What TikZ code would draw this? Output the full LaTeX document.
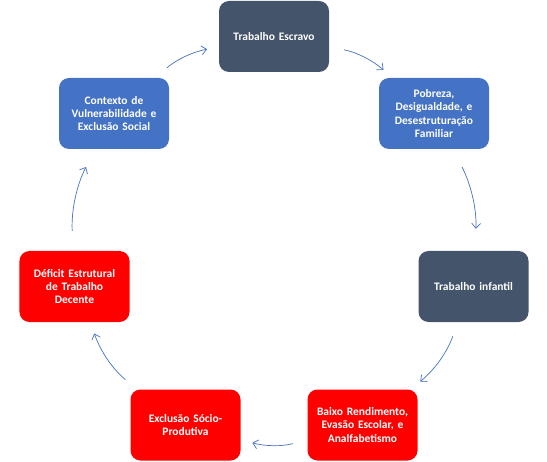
\documentclass[tikz,border=0pt]{standalone}
\usepackage{fontspec}
\setmainfont{Carlito}
\usepackage{tikz}
\usetikzlibrary{arrows.meta, positioning}

\definecolor{slate}{HTML}{44546A}
\definecolor{azul}{HTML}{4472C4}
\definecolor{vermelho}{HTML}{FF0000}

\begin{document}
\begin{tikzpicture}[x=1bp, y=-1bp,
    box/.style={rounded corners=10bp, minimum width=110bp, minimum height=71bp,
        text width=106bp, align=center, text=white, inner sep=0pt,
        font=\fontsize{11.5}{13.2}\selectfont\bfseries},
    cycarrow/.style={draw=azul, line width=0.7bp, -{Straight Barb[length=5bp, width=9bp]},
        bend left=15, shorten <=15bp, shorten >=12bp}]
            \useasboundingbox (0,0) rectangle (547,462);

            % Boxes
            \node[box, fill=slate] (escravo) at (274,36.5) {Trabalho Escravo};
            \node[box, fill=azul] (pobreza) at (434,113.5) {Pobreza,\\ Desigualdade, e\\ Desestruturação\\ Familiar};
            \node[box, fill=slate] (infantil) at (473.5,286.5) {Trabalho infantil};
            \node[box, fill=vermelho] (baixo) at (362.5,425) {Baixo Rendimento,\\ Evasão Escolar, e\\ Analfabetismo};
            \node[box, fill=vermelho] (exclusao) at (185.5,425) {Exclusão Sócio-\\ Produtiva};
            \node[box, fill=vermelho] (deficit) at (74.5,286.5) {Déficit Estrutural\\ de Trabalho\\ Decente};
            \node[box, fill=azul] (contexto) at (114,113.5) {Contexto de\\ Vulnerabilidade e\\ Exclusão Social};

            % Cycle
            \draw[cycarrow] (escravo) to (pobreza);
            \draw[cycarrow, shorten <=20bp, shorten >=22bp] (pobreza) to (infantil);
            \draw[cycarrow] (infantil) to (baixo);
            \draw[cycarrow] (baixo) to (exclusao);
            \draw[cycarrow] (exclusao) to (deficit);
            \draw[cycarrow, shorten <=20bp, shorten >=20bp] (deficit) to (contexto);
            \draw[cycarrow] (contexto) to (escravo);
        \end{tikzpicture}
\end{document}
